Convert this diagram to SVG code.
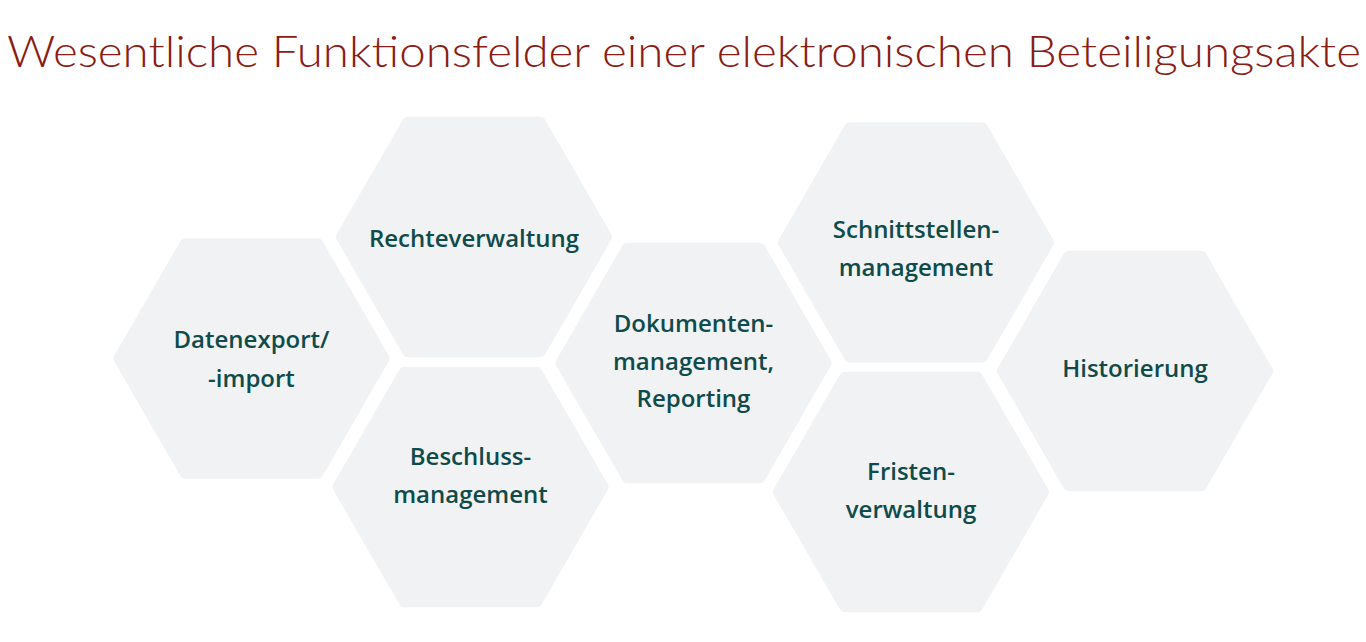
<svg xmlns="http://www.w3.org/2000/svg" xmlns:xlink="http://www.w3.org/1999/xlink" width="1366" height="642" viewBox="0 0 1366 642">
  <style>
    .title { font-family: "Lato", "Open Sans", "Liberation Sans", sans-serif; font-weight: 300; font-size: 44px; fill: #8a1c14; }
    .hex { fill: #f1f2f4; stroke: #f1f2f4; stroke-width: 12; stroke-linejoin: round; }
    .lbl { font-family: "Open Sans", "Noto Sans", "Liberation Sans", sans-serif; font-weight: 600; font-size: 24px; fill: #0f4b4b; text-anchor: middle; }
  </style>
  <defs>
    <polygon id="hexShape" class="hex" points="-132,0 -66,-114.3 66,-114.3 132,0 66,114.3 -66,114.3"/>
  </defs>
  <rect width="1366" height="642" fill="#ffffff"/>
  <text class="title" x="7" y="67" textLength="1354" lengthAdjust="spacingAndGlyphs">Wesentliche Funktionsfelder einer elektronischen Beteiligungsakte</text>

  <g id="connectors"></g>

  <g id="node-datenexport">
    <use xlink:href="#hexShape" href="#hexShape" x="251.5" y="358.5"/>
    <text class="lbl" x="251.5" y="348">Datenexport/</text>
    <text class="lbl" x="251.5" y="387">-import</text>
  </g>
  <g id="node-rechteverwaltung">
    <use xlink:href="#hexShape" href="#hexShape" x="474" y="237"/>
    <text class="lbl" x="474" y="247">Rechteverwaltung</text>
  </g>
  <g id="node-beschluss">
    <use xlink:href="#hexShape" href="#hexShape" x="470.5" y="487"/>
    <text class="lbl" x="470.5" y="465">Beschluss-</text>
    <text class="lbl" x="470.5" y="503">management</text>
  </g>
  <g id="node-dokumente">
    <use xlink:href="#hexShape" href="#hexShape" x="693.5" y="363"/>
    <text class="lbl" x="693.5" y="332">Dokumenten-</text>
    <text class="lbl" x="693.5" y="370">management,</text>
    <text class="lbl" x="693.5" y="407">Reporting</text>
  </g>
  <g id="node-schnittstellen">
    <use xlink:href="#hexShape" href="#hexShape" x="916" y="242.5"/>
    <text class="lbl" x="916" y="238">Schnittstellen-</text>
    <text class="lbl" x="916" y="276">management</text>
  </g>
  <g id="node-fristen">
    <use xlink:href="#hexShape" href="#hexShape" x="911" y="492"/>
    <text class="lbl" x="911" y="480">Fristen-</text>
    <text class="lbl" x="911" y="518">verwaltung</text>
  </g>
  <g id="node-historierung">
    <use xlink:href="#hexShape" href="#hexShape" x="1135" y="371"/>
    <text class="lbl" x="1135" y="377">Historierung</text>
  </g>
</svg>
